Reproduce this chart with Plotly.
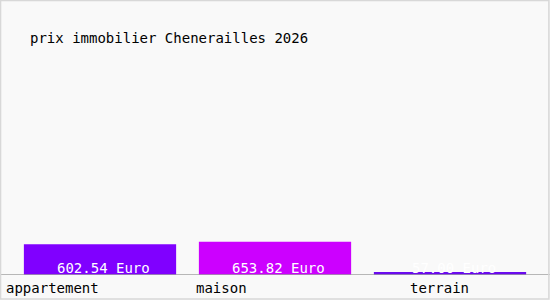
import plotly.graph_objects as go

categories = ["appartement", "maison", "terrain"]
values = [602.54, 653.82, 57.00]
labels = ["602.54 Euro", "653.82 Euro", "57.00 Euro"]
colors = ["#8000ff", "#cc00ff", "#6a0aee"]
title = "prix immobilier Chenerailles 2026"

FONT = "DejaVu Sans Mono"

fig = go.Figure()
fig.add_trace(go.Bar(
    x=list(range(len(categories))), y=values,
    marker=dict(color=colors, line=dict(width=0)),
    width=0.87, hoverinfo="skip",
))

annotations = []
for i, lab in enumerate(labels):
    annotations.append(dict(
        x=i + 0.02, y=0, xref="x", yref="y", text=lab, showarrow=False,
        xanchor="center", yanchor="middle", yshift=7,
        font=dict(family=FONT, size=14, color="white"),
    ))
tick_x = [4, 194, 408]
for cat, px in zip(categories, tick_x):
    annotations.append(dict(
        x=px / 550, y=-13 / 275, xref="paper", yref="paper", text=cat,
        showarrow=False, xanchor="left", yanchor="middle",
        font=dict(family=FONT, size=14, color="black"),
    ))
annotations.append(dict(
    x=28 / 550, y=(275 - 38) / 275, xref="paper", yref="paper", text=title,
    showarrow=False, xanchor="left", yanchor="middle",
    font=dict(family=FONT, size=14, color="black"),
))

fig.update_layout(
    width=550, height=300,
    margin=dict(l=0, r=0, t=0, b=25),
    paper_bgcolor="#f9f9f9", plot_bgcolor="#f9f9f9",
    showlegend=False,
    xaxis=dict(range=[-100 / 175, -100 / 175 + 550 / 175], showticklabels=False,
               showgrid=False, zeroline=False, showline=False, fixedrange=True),
    yaxis=dict(range=[0, 5400], showticklabels=False, showgrid=False,
               zeroline=False, showline=False, fixedrange=True),
    annotations=annotations,
    shapes=[
        dict(type="line", xref="paper", yref="y", x0=0, x1=1, y0=0, y1=0,
             line=dict(color="#a0a0a0", width=1.5)),
        dict(type="rect", xref="paper", yref="paper", x0=0.001, x1=0.998,
             y0=-25 / 275 + 0.004, y1=0.998, line=dict(color="#d8d8d8", width=1.5)),
    ],
)

fig.write_html("out.html", config={"displayModeBar": False})
